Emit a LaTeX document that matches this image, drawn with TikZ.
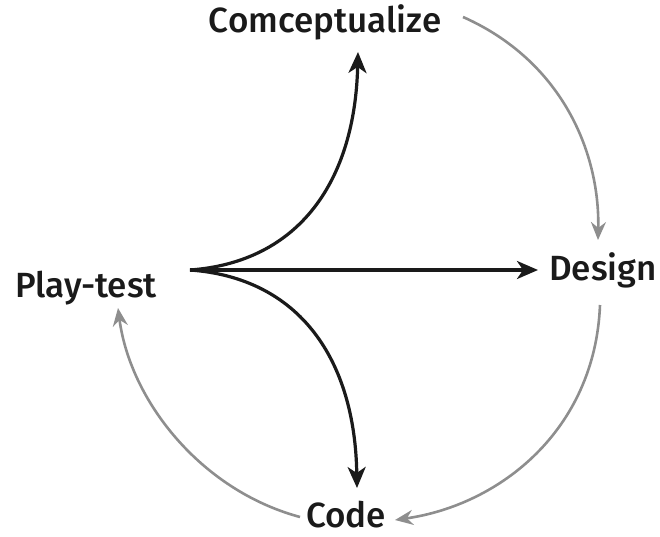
\documentclass[tikz,border=0pt]{standalone}
\usepackage{fontspec}
\setmainfont{Fira Sans}[BoldFont={Fira Sans Medium}]
\usetikzlibrary{arrows.meta}
\definecolor{ink}{HTML}{1A1A1A}
\definecolor{arc}{HTML}{8E8E8E}
\tikzset{
  lab/.style={inner sep=0pt, font=\fontsize{35}{39}\selectfont\bfseries, text=ink},
  blk/.style={draw=ink, line width=3.2pt, -{Stealth[length=21pt,width=18pt,inset=6pt]}},
  gry/.style={draw=arc, line width=2.6pt, -{Stealth[length=18pt,width=15pt,inset=6pt]}}
}
\begin{document}
\begin{tikzpicture}[x=1pt,y=-1pt]
\useasboundingbox (0,0) rectangle (660,537);
\node[lab] (con) at (325,22) {Comceptualize};
\node[lab] (des) at (603,270) {Design};
\node[lab] (play) at (86,288) {Play-test};
\node[lab] (code) at (346,515) {Code};
\coordinate (o) at (190,270);
\coordinate (tc) at (358,52);
\coordinate (td) at (538,270);
\coordinate (tk) at (357,488);
\coordinate (c1) at (463,17);
\coordinate (d1) at (598,240);
\coordinate (d2) at (600,305);
\coordinate (k1) at (395,520);
\coordinate (k2) at (300,517);
\coordinate (p1) at (118,308);
\draw[blk] (o) -- (td);
\draw[blk] (o) .. controls (300,262) and (355,180) .. (tc);
\draw[blk] (o) .. controls (300,278) and (355,360) .. (tk);
\draw[gry] (c1) .. controls (560,60) and (600,150) .. (d1);
\draw[gry] (d2) .. controls (595,430) and (500,505) .. (k1);
\draw[gry] (k2) .. controls (200,490) and (130,400) .. (p1);
\end{tikzpicture}
\end{document}
